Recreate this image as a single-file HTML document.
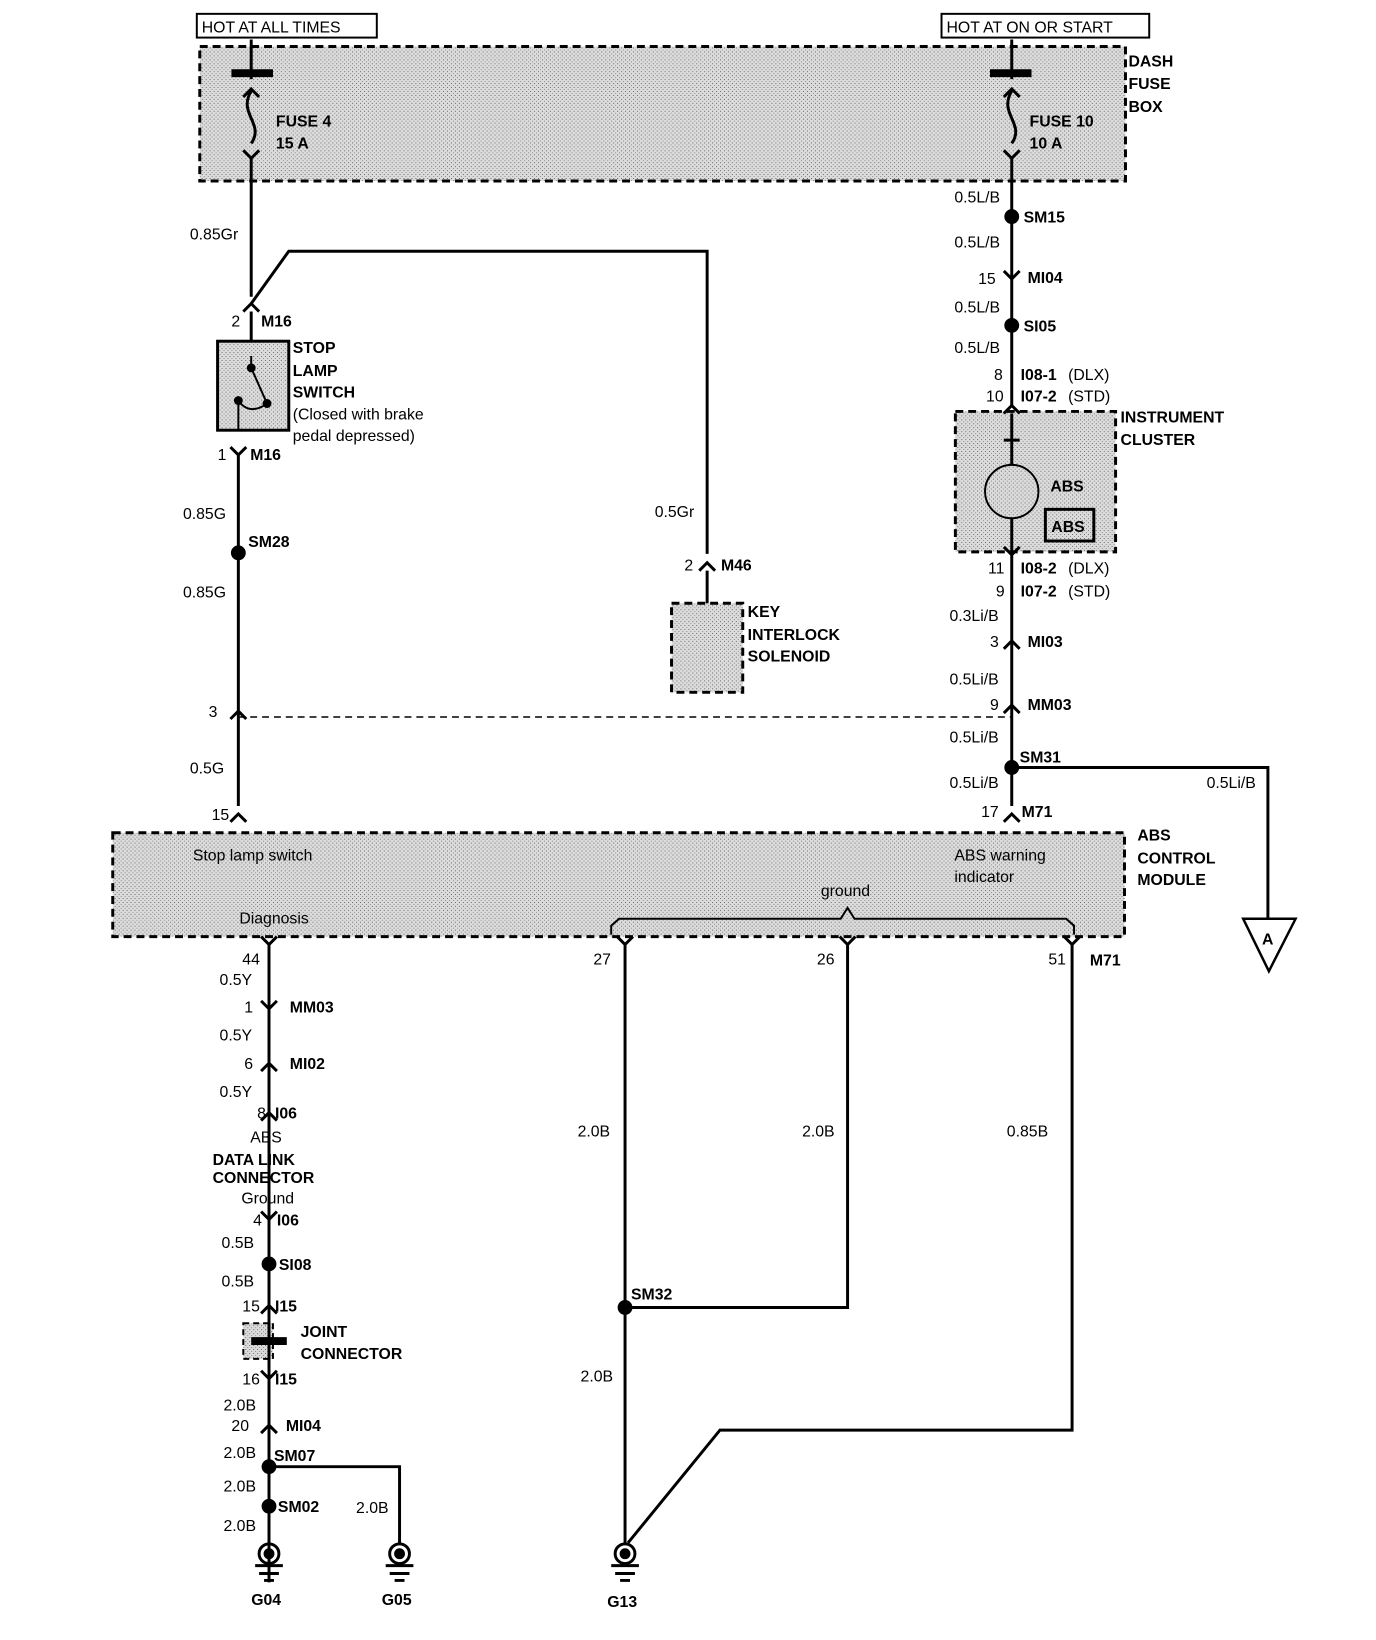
<!DOCTYPE html>
<html><head><meta charset="utf-8"><style>
html,body{margin:0;padding:0;background:#fff}
svg{display:block}
text{font-family:"Liberation Sans",sans-serif;font-size:16px;fill:#000}
.b{font-weight:bold}
</style></head><body>
<svg width="1376" height="1640" viewBox="0 0 1376 1640" xmlns="http://www.w3.org/2000/svg">
<defs>
<pattern id="st" width="4" height="4" patternUnits="userSpaceOnUse">
<rect width="4" height="4" fill="#dcdcdc"/><rect width="1" height="1" fill="#666"/><rect x="2" y="2" width="1" height="1" fill="#888"/>
</pattern>
</defs>
<g transform="scale(0.989)">
<g fill="none" stroke="#000" stroke-width="3">
<rect x="199" y="14" width="182" height="24" stroke-width="2"/>
<rect x="952" y="14" width="210" height="24" stroke-width="2"/>
<rect x="202" y="47" width="936" height="136" fill="url(#st)" stroke-dasharray="8,5"/>
<rect x="114" y="842" width="1023" height="105" fill="url(#st)" stroke-dasharray="8,5"/>
<rect x="966" y="416" width="162" height="142" fill="url(#st)" stroke-dasharray="8,5"/>
<rect x="679" y="610" width="72" height="90" fill="url(#st)" stroke-dasharray="8,5"/>
<rect x="220" y="345" width="72" height="90" fill="url(#st)"/>
<rect x="1057" y="515" width="49" height="32" fill="url(#st)"/>
<rect x="246" y="1338" width="30" height="36" fill="url(#st)" stroke-dasharray="6,4" stroke-width="2"/>
<line x1="234" y1="74" x2="276" y2="74" stroke-width="8"/>
<line x1="1001" y1="74" x2="1043" y2="74" stroke-width="8"/>
<path d="M254 40V80 M246 98 L254 90 L262 98 M254 92 C240 115 268 125 254 145 M246 152 L254 160 L262 152 M254 160V183"/>
<path d="M1023 40V80 M1015 98 L1023 90 L1031 98 M1023 92 C1009 115 1037 125 1023 145 M1015 152 L1023 160 L1031 152 M1023 160V183"/>
<path d="M254 183V300 M254 307 L292 254 H715 V560"/>
<path d="M246 315 L254 307 L262 315"/>
<path d="M254 315V345"/>
<path d="M254 360V372 L270 408 M241 405 V435 M241 405 C250 418 262 414 270 408" stroke-width="2"/>
<circle cx="254" cy="372" r="3" fill="#000"/><circle cx="241" cy="405" r="3" fill="#000"/><circle cx="270" cy="408" r="3" fill="#000"/>
<path d="M233 452 L241 460 L249 452 M241 460V815"/>
<circle cx="241" cy="559" r="6" fill="#000"/>
<path d="M233 727 L241 719 L249 727"/>
<path d="M241 725 H1023" stroke-width="1.5" stroke-dasharray="7,5"/>
<path d="M707 577 L715 569 L723 577 M715 577V610"/>
<path d="M1023 183V410"/>
<circle cx="1023" cy="219" r="6" fill="#000"/>
<circle cx="1023" cy="329" r="6" fill="#000"/>
<path d="M1015 274 L1023 282 L1031 274"/>
<path d="M1015 418 L1023 410 L1031 418 M1023 418 V470 M1015 445 H1031 M1023 524 V560 M1015 553 L1023 561 L1031 553 M1023 561V815"/>
<circle cx="1023" cy="497" r="27" stroke-width="2"/>
<path d="M1015 656 L1023 648 L1031 656 M1015 721 L1023 713 L1031 721"/>
<circle cx="1023" cy="776" r="6" fill="#000"/>
<path d="M1023 776 H1282 V929"/>
<path d="M1257 929 H1310 L1283 982 Z" stroke-width="2.5"/>
<path d="M1015 831 L1023 823 L1031 831 M233 831 L241 823 L249 831"/>
<path d="M618 945 V936 L626 929 H850 L857 918 L864 929 H1078 L1086 936 V945" stroke-width="2"/>
<path d="M264 947 L272 955 L280 947 M272 955 V1600"/>
<path d="M264 1012 L272 1020 L280 1012 M264 1083 L272 1075 L280 1083 M264 1133 L272 1125 L280 1133 M264 1225 L272 1233 L280 1225 M264 1328 L272 1320 L280 1328 M264 1386 L272 1394 L280 1386 M264 1449 L272 1441 L280 1449"/>
<line x1="254" y1="1356" x2="290" y2="1356" stroke-width="8"/>
<circle cx="272" cy="1278" r="6" fill="#000"/>
<circle cx="272" cy="1483" r="6" fill="#000"/>
<circle cx="272" cy="1523" r="6" fill="#000"/>
<path d="M272 1483 H404 V1560"/>
<path d="M624 947 L632 955 L640 947 M632 955 V1560 M849 947 L857 955 L865 947 M857 955 V1322 H632 M1076 947 L1084 955 L1092 947 M1084 955 V1446 H728 L635 1560"/>
<circle cx="632" cy="1322" r="6" fill="#000"/>
<g stroke-width="3">
<circle cx="272" cy="1571" r="10"/><circle cx="272" cy="1571" r="4" fill="#000"/><path d="M258 1583 H286 M262 1591 H282 M267 1598 H277"/>
<circle cx="404" cy="1571" r="10"/><circle cx="404" cy="1571" r="4" fill="#000"/><path d="M390 1583 H418 M394 1591 H414 M399 1598 H409"/>
<circle cx="632" cy="1571" r="10"/><circle cx="632" cy="1571" r="4" fill="#000"/><path d="M618 1583 H646 M622 1591 H642 M627 1598 H637"/>
</g>
</g>
<text x="204" y="33">HOT AT ALL TIMES</text>
<text x="957" y="33">HOT AT ON OR START</text>
<g class="b">
<text x="1141" y="67" class="b">DASH</text><text x="1141" y="90" class="b">FUSE</text><text x="1141" y="113" class="b">BOX</text>
<text x="279" y="128" class="b">FUSE 4</text><text x="279" y="150" class="b">15 A</text>
<text x="1041" y="128" class="b">FUSE 10</text><text x="1041" y="150" class="b">10 A</text>
<text x="264" y="330" class="b">M16</text>
<text x="296" y="357" class="b">STOP</text><text x="296" y="380" class="b">LAMP</text><text x="296" y="402" class="b">SWITCH</text>
<text x="253" y="465" class="b">M16</text>
<text x="251" y="553" class="b">SM28</text>
<text x="729" y="577" class="b">M46</text>
<text x="756" y="624" class="b">KEY</text><text x="756" y="647" class="b">INTERLOCK</text><text x="756" y="669" class="b">SOLENOID</text>
<text x="1035" y="225" class="b">SM15</text>
<text x="1039" y="286" class="b">MI04</text>
<text x="1035" y="335" class="b">SI05</text>
<text x="1032" y="384" class="b">I08-1</text><text x="1032" y="406" class="b">I07-2</text>
<text x="1133" y="427" class="b">INSTRUMENT</text><text x="1133" y="450" class="b">CLUSTER</text>
<text x="1062" y="497" class="b">ABS</text><text x="1063" y="538" class="b">ABS</text>
<text x="1032" y="580" class="b">I08-2</text><text x="1032" y="603" class="b">I07-2</text>
<text x="1039" y="654" class="b">MI03</text>
<text x="1039" y="718" class="b">MM03</text>
<text x="1031" y="771" class="b">SM31</text>
<text x="1033" y="826" class="b">M71</text>
<text x="1150" y="850" class="b">ABS</text><text x="1150" y="873" class="b">CONTROL</text><text x="1150" y="895" class="b">MODULE</text>
<text x="1102" y="976" class="b">M71</text>
<text x="1276" y="955" class="b" font-size="14">A</text>
<text x="293" y="1024" class="b">MM03</text>
<text x="293" y="1081" class="b">MI02</text>
<text x="278" y="1131" class="b">I06</text>
<text x="215" y="1178" class="b">DATA LINK</text><text x="215" y="1196" class="b">CONNECTOR</text>
<text x="280" y="1239" class="b">I06</text>
<text x="282" y="1284" class="b">SI08</text>
<text x="278" y="1326" class="b">I15</text>
<text x="304" y="1352" class="b">JOINT</text><text x="304" y="1374" class="b">CONNECTOR</text>
<text x="278" y="1400" class="b">I15</text>
<text x="289" y="1447" class="b">MI04</text>
<text x="277" y="1477" class="b">SM07</text>
<text x="281" y="1529" class="b">SM02</text>
<text x="638" y="1314" class="b">SM32</text>
<text x="254" y="1623" class="b">G04</text><text x="386" y="1623" class="b">G05</text><text x="614" y="1625" class="b">G13</text>
</g>
<text x="192" y="242">0.85Gr</text>
<text x="234" y="330">2</text>
<text x="296" y="424">(Closed with brake</text><text x="296" y="446">pedal depressed)</text>
<text x="220" y="465">1</text>
<text x="185" y="525">0.85G</text>
<text x="185" y="604">0.85G</text>
<text x="662" y="523">0.5Gr</text>
<text x="692" y="577">2</text>
<text x="211" y="725">3</text>
<text x="192" y="782">0.5G</text>
<text x="214" y="829">15</text>
<text x="965" y="205">0.5L/B</text>
<text x="965" y="250">0.5L/B</text>
<text x="989" y="287">15</text>
<text x="965" y="316">0.5L/B</text>
<text x="965" y="357">0.5L/B</text>
<text x="1005" y="384">8</text><text x="997" y="406">10</text>
<text x="1080" y="384">(DLX)</text><text x="1080" y="406">(STD)</text>
<text x="999" y="580">11</text><text x="1007" y="603">9</text>
<text x="1080" y="580">(DLX)</text><text x="1080" y="603">(STD)</text>
<text x="960" y="628">0.3Li/B</text>
<text x="1001" y="654">3</text>
<text x="960" y="692">0.5Li/B</text>
<text x="1001" y="718">9</text>
<text x="960" y="751">0.5Li/B</text>
<text x="960" y="797">0.5Li/B</text>
<text x="1220" y="797">0.5Li/B</text>
<text x="992" y="826">17</text>
<text x="195" y="870">Stop lamp switch</text>
<text x="965" y="870">ABS warning</text><text x="965" y="892">indicator</text>
<text x="830" y="906">ground</text>
<text x="242" y="934">Diagnosis</text>
<text x="245" y="975">44</text><text x="600" y="975">27</text><text x="826" y="975">26</text><text x="1060" y="975">51</text>
<text x="222" y="996">0.5Y</text>
<text x="247" y="1024">1</text>
<text x="222" y="1052">0.5Y</text>
<text x="247" y="1081">6</text>
<text x="222" y="1109">0.5Y</text>
<text x="260" y="1131">8</text>
<text x="253" y="1155">ABS</text>
<text x="244" y="1217">Ground</text>
<text x="256" y="1239">4</text>
<text x="224" y="1262">0.5B</text>
<text x="224" y="1301">0.5B</text>
<text x="245" y="1326">15</text>
<text x="245" y="1400">16</text>
<text x="226" y="1426">2.0B</text>
<text x="234" y="1447">20</text>
<text x="226" y="1474">2.0B</text>
<text x="226" y="1508">2.0B</text>
<text x="226" y="1548">2.0B</text>
<text x="360" y="1530">2.0B</text>
<text x="584" y="1149">2.0B</text>
<text x="811" y="1149">2.0B</text>
<text x="1018" y="1149">0.85B</text>
<text x="587" y="1397">2.0B</text>
</g>
</svg>
</body></html>
